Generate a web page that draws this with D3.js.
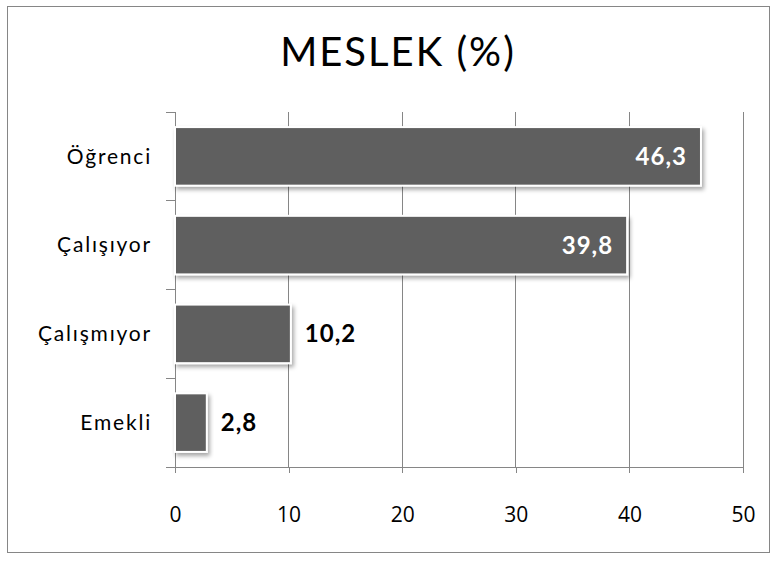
<!DOCTYPE html>
<html>
<head>
<meta charset="utf-8">
<script src="https://cdn.jsdelivr.net/npm/d3@7"></script>
<style>
  body { margin: 0; background: #fff; }
  svg { font-family: Lato, 'Open Sans', sans-serif; }
</style>
</head>
<body>
<div class="chart"></div>
<script>
// chart data
const categories = ['Öğrenci', 'Çalışıyor', 'Çalışmıyor', 'Emekli'];
const values = [46.3, 39.8, 10.2, 2.8];
const xTicks = [0, 10, 20, 30, 40, 50];
const labelInside = [true, true, false, false];

const data = categories.map((c, i) => ({ cat: c, value: values[i], inside: labelInside[i] }));

const W = 776, H = 561;
const margin = { top: 112, right: 33, bottom: 94, left: 175 };
const width = W - margin.left - margin.right;
const height = H - margin.top - margin.bottom;

const xScale = d3.scaleLinear().domain([0, 50]).range([0, width]);
const yScale = d3.scaleBand()
    .domain(categories)
    .range([0, height])
    .paddingInner(0.34)
    .paddingOuter(0.17);

const root = d3.select('.chart')
    .append('svg')
    .attr('width', W)
    .attr('height', H);

const defs = root.append('defs');
const shadow = defs.append('filter')
    .attr('id', 'shadow')
    .attr('x', '-10%').attr('y', '-20%')
    .attr('width', '130%').attr('height', '160%');
shadow.append('feDropShadow')
    .attr('dx', 2).attr('dy', 3)
    .attr('stdDeviation', 2)
    .attr('flood-color', '#000')
    .attr('flood-opacity', 0.35);

// outer border
root.append('rect')
    .attr('x', 7.5).attr('y', 6.5)
    .attr('width', 762).attr('height', 546)
    .attr('fill', '#fff')
    .attr('stroke', '#868686');

// title
root.append('text')
    .attr('x', 398)
    .attr('y', 66)
    .attr('text-anchor', 'middle')
    .attr('font-size', 40)
    .attr('letter-spacing', 2)
    .attr('fill', '#000')
    .text('MESLEK (%)');

const svg = root.append('g')
    .attr('transform', `translate(${margin.left}, ${margin.top})`);

// vertical gridlines
svg.append('g')
    .selectAll('line')
    .data(xTicks.slice(1))
    .enter()
    .append('line')
        .attr('x1', d => xScale(d)).attr('x2', d => xScale(d))
        .attr('y1', 0).attr('y2', height)
        .attr('stroke', '#868686')
        .attr('shape-rendering', 'crispEdges');

// x axis
const xAxis = d3.axisBottom(xScale)
    .tickValues(xTicks)
    .tickSizeInner(6)
    .tickSizeOuter(0)
    .tickPadding(34)
    .tickFormat(d3.format('d'));

const xAxisDraw = svg.append('g')
    .attr('transform', `translate(0, ${height})`)
    .call(xAxis);
xAxisDraw.select('.domain').attr('stroke', '#868686').attr('shape-rendering', 'crispEdges');
xAxisDraw.selectAll('line').attr('stroke', '#868686').attr('shape-rendering', 'crispEdges');
xAxisDraw.selectAll('text')
    .attr('fill', '#000')
    .attr('font-family', "'Open Sans', sans-serif")
    .attr('font-size', 21);

// y axis: tick marks at band edges
svg.append('line')
    .attr('x1', 0).attr('x2', 0)
    .attr('y1', 0).attr('y2', height)
    .attr('stroke', '#868686')
    .attr('shape-rendering', 'crispEdges');

const bandEdges = categories.map(c => yScale(c) - yScale.step() * yScale.paddingInner() / 2);
bandEdges.push(height);
svg.append('g')
    .selectAll('line')
    .data(bandEdges)
    .enter()
    .append('line')
        .attr('x1', -9).attr('x2', 0)
        .attr('y1', d => Math.max(0, d)).attr('y2', d => Math.max(0, d))
        .attr('stroke', '#868686')
        .attr('shape-rendering', 'crispEdges');

svg.append('g')
    .selectAll('text')
    .data(categories)
    .enter()
    .append('text')
        .attr('x', -23)
        .attr('y', d => yScale(d) + yScale.bandwidth() / 2)
        .attr('dy', '0.35em')
        .attr('text-anchor', 'end')
        .attr('font-size', 21)
        .attr('letter-spacing', 1.8)
        .attr('fill', '#000')
        .text(d => d);

// bars
svg.selectAll('.bar')
    .data(data)
    .enter()
    .append('rect')
        .attr('class', 'bar')
        .attr('x', 0)
        .attr('y', d => yScale(d.cat))
        .attr('width', d => xScale(d.value))
        .attr('height', yScale.bandwidth())
        .attr('fill', '#5f5f5f')
        .attr('stroke', '#fff')
        .attr('stroke-width', 2)
        .attr('filter', 'url(#shadow)');

// value labels
svg.selectAll('.value')
    .data(data)
    .enter()
    .append('text')
        .attr('class', 'value')
        .attr('x', d => d.inside ? xScale(d.value) - 14 : xScale(d.value) + 14)
        .attr('y', d => yScale(d.cat) + yScale.bandwidth() / 2)
        .attr('dy', '0.35em')
        .attr('text-anchor', d => d.inside ? 'end' : 'start')
        .attr('font-size', 24)
        .attr('letter-spacing', 1)
        .attr('font-weight', 'bold')
        .attr('fill', d => d.inside ? '#fff' : '#000')
        .text(d => String(d.value).replace('.', ','));
</script>
</body>
</html>
